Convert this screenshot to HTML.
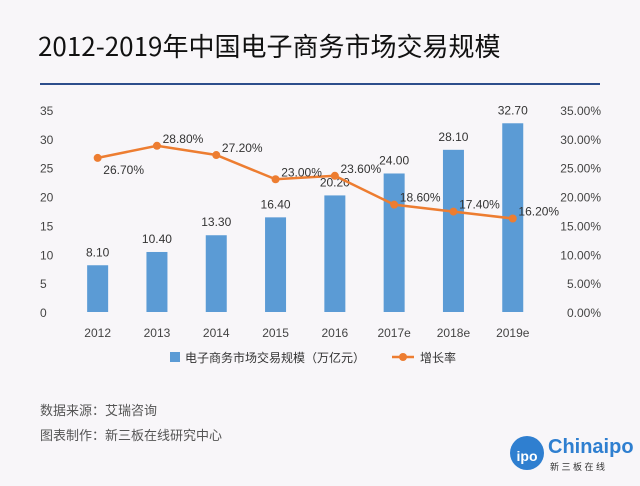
<!DOCTYPE html>
<html><head><meta charset="utf-8"><style>
body{margin:0;width:640px;height:486px;background:#f8f6f9;font-family:"Liberation Sans","Noto Sans CJK SC",sans-serif;overflow:hidden;position:relative}
.t{position:absolute}
</style></head><body>
<div class="t" style="left:38px;top:27px;font-size:26px;color:#111;font-family:'Noto Sans CJK SC',sans-serif;font-weight:400;letter-spacing:0px">2012-2019年中国电子商务市场交易规模</div>
<div class="t" style="left:40px;top:83px;width:560px;height:2px;background:#2d4e8c"></div>
<svg class="t" style="left:0;top:0" width="640" height="486">
<g id="g"></g>
</svg>
<div class="t" style="left:40px;top:400px;font-size:13px;color:#555">数据来源：艾瑞咨询</div>
<div class="t" style="left:40px;top:425px;font-size:13px;color:#555">图表制作：新三板在线研究中心</div>
<div class="t" style="left:510px;top:436px;width:34px;height:34px;border-radius:50%;background:#2f7fd0;color:#fff;font-size:14px;font-weight:bold;text-align:center;line-height:40px">ipo</div>
<div class="t" style="left:548px;top:436px;font-size:20px;color:#2f7fd0;font-weight:bold">Chinaipo</div>
<div class="t" style="left:550px;top:460px;font-size:9px;color:#333">新 三 板 在 线</div>
<script>
const categories=["2012","2013","2014","2015","2016","2017e","2018e","2019e"];
const barValues=[8.1,10.4,13.3,16.4,20.2,24.0,28.1,32.7];
const growthValues=[26.7,28.8,27.2,23.0,23.6,18.6,17.4,16.2];
const leftTicks=[0,5,10,15,20,25,30,35];
const rightTicks=[0,5,10,15,20,25,30,35];
const labelBelow=[true,false,false,false,false,false,false,false];
const NS="http://www.w3.org/2000/svg",g=document.getElementById('g');
const y0=312,y1=110,x0=68,step=59.3;
const yL=v=>y0-(v/35)*(y0-y1), yR=v=>y0-(v/35)*(y0-y1), xC=i=>x0+step*(i+0.5);
function mk(t,a,txt){const e=document.createElementNS(NS,t);for(const k in a)e.setAttribute(k,a[k]);if(txt!=null)e.textContent=txt;g.appendChild(e);return e;}
let e;
leftTicks.forEach(v=>{e=mk('text',{x:40,y:yL(v)+5,'font-size':12,fill:'#444'},v);
});
rightTicks.forEach(v=>{e=mk('text',{x:601,y:yR(v)+5,'font-size':12,fill:'#444','text-anchor':'end'},v.toFixed(2)+'%');
});
categories.forEach((c,i)=>{e=mk('text',{x:xC(i),y:337,'font-size':12,fill:'#444','text-anchor':'middle'},c);
});
barValues.forEach((v,i)=>{e=mk('rect',{x:xC(i)-10.5,y:yL(v),width:21,height:y0-yL(v),fill:'#5b9bd5'});

e=mk('text',{x:xC(i),y:yL(v)-9,'font-size':12,fill:'#333','text-anchor':'middle'},v.toFixed(2));
});
e=mk('polyline',{points:growthValues.map((v,i)=>xC(i)+','+yR(v)).join(' '),fill:'none',stroke:'#ed7d31','stroke-width':2.5});

growthValues.forEach((v,i)=>{e=mk('circle',{cx:xC(i),cy:yR(v),r:4,fill:'#ed7d31'});

const below=labelBelow[i];
e=mk('text',{x:xC(i)+26,y:below?yR(v)+16:yR(v)-3,'font-size':12,fill:'#333','text-anchor':'middle'},v.toFixed(2)+'%');
});
e=mk('rect',{x:170,y:352,width:10,height:10,fill:'#5b9bd5'});

e=mk('text',{x:185,y:362,'font-size':12,fill:'#333'},'电子商务市场交易规模（万亿元）');

e=mk('line',{x1:392,x2:414,y1:357,y2:357,stroke:'#ed7d31','stroke-width':2.5});

e=mk('circle',{cx:403,cy:357,r:4,fill:'#ed7d31'});

e=mk('text',{x:420,y:362,'font-size':12,fill:'#333'},'增长率');

</script>
</body></html>
